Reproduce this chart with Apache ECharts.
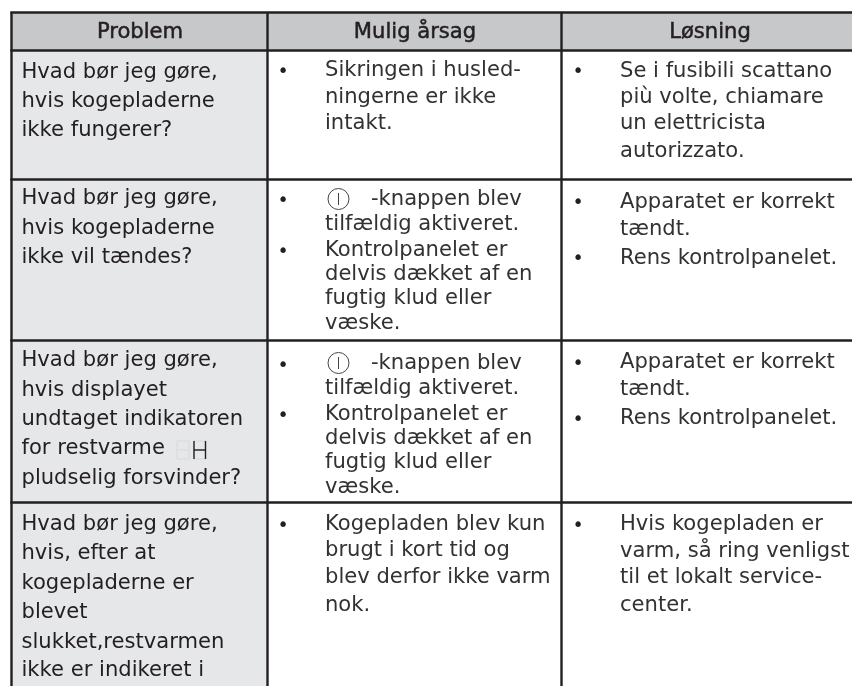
<!DOCTYPE html>
<html><head><meta charset="utf-8">
<style>html,body{margin:0;padding:0;background:#fff}#c{width:852px;height:686px}</style>
<script src="https://cdn.jsdelivr.net/npm/echarts@6/dist/echarts.min.js"></script>
</head><body><div id="c"></div>
<script>
// Content
const headers = ["Problem", "Mulig årsag", "Løsning"];
const problems = [
  ["Hvad bør jeg gøre,", "hvis kogepladerne", "ikke fungerer?"],
  ["Hvad bør jeg gøre,", "hvis kogepladerne", "ikke vil tændes?"],
  ["Hvad bør jeg gøre,", "hvis displayet", "undtaget indikatoren", "for restvarme", "pludselig forsvinder?"],
  ["Hvad bør jeg gøre,", "hvis, efter at", "kogepladerne er", "blevet", "slukket,restvarmen", "ikke er indikeret i"]
];
const causes = [
  ["Sikringen i husled-", "ningerne er ikke", "intakt."],
  ["-knappen blev", "tilfældig aktiveret.", "Kontrolpanelet er", "delvis dækket af en", "fugtig klud eller", "væske."],
  ["-knappen blev", "tilfældig aktiveret.", "Kontrolpanelet er", "delvis dækket af en", "fugtig klud eller", "væske."],
  ["Kogepladen blev kun", "brugt i kort tid og", "blev derfor ikke varm", "nok."]
];
const solutions = [
  ["Se i fusibili scattano", "più volte, chiamare", "un elettricista", "autorizzato."],
  ["Apparatet er korrekt", "tændt.", "Rens kontrolpanelet."],
  ["Apparatet er korrekt", "tændt.", "Rens kontrolpanelet."],
  ["Hvis kogepladen er", "varm, så ring venligst", "til et lokalt service-", "center."]
];
// Layout (separate from content)
const W = 852, H = 686;
const colEdges = [11.5, 267.5, 561.5, 852];
const rowEdges = [12.5, 50.5, 179.5, 340.5, 502.5, 686];
const headerCx = [140, 415, 710], headerCy = 33;
const problemX = 21.5, causeX = 325, solutionX = 620;
const causeBulletX = 283, solutionBulletX = 578;
const problemY = [[73,102,131],[199,229,258],[361,391,420,449,479],[525,554,584,613,643,671]];
const causeY = [[71,98,124],[200,225,251,275,299,324],[364,389,415,439,463,488],[525,551,578,606]];
const solutionY = [[72,98,124,152],[203,230,259],[363,390,419],[525,552,578,606]];
const causeBulletY = [72,201,252,366,416,526];
const solutionBulletY = [72,203,259,364,420,526];
const powerIconY = [199,363];
const iconTextX = 371;
const fontFam = '"DejaVu Sans",sans-serif';
const ink = '#231f20', body = '#343132';
const FS = 21.1;

const items = [];
for (let c=0;c<3;c++) {
  items.push({k:'rect',x0:colEdges[c],x1:colEdges[c+1],y0:rowEdges[0],y1:rowEdges[1],fill:'#c7c8ca'});
  items.push({k:'head',x:headerCx[c],y:headerCy,t:headers[c]});
}
for (let r=0;r<4;r++) items.push({k:'rect',x0:colEdges[0],x1:colEdges[1],y0:rowEdges[r+1],y1:rowEdges[r+2],fill:'#e6e7e8'});
rowEdges.slice(0,5).forEach(y=>items.push({k:'line',x0:colEdges[0]-1.2,x1:W,y0:y,y1:y}));
colEdges.slice(0,3).forEach(x=>items.push({k:'line',x0:x,x1:x,y0:rowEdges[0],y1:H}));
problems.forEach((ls,r)=>ls.forEach((t,i)=>items.push({k:'text',x:problemX,y:problemY[r][i],t,c:ink})));
causes.forEach((ls,r)=>ls.forEach((t,i)=>{
  const iconLine = i===0 && (r===1||r===2);
  items.push({k:'text',x:iconLine?iconTextX:causeX,y:causeY[r][i],t,c:body});
}));
solutions.forEach((ls,r)=>ls.forEach((t,i)=>items.push({k:'text',x:solutionX,y:solutionY[r][i],t,c:body})));
causeBulletY.forEach(y=>items.push({k:'bullet',x:causeBulletX,y}));
solutionBulletY.forEach(y=>items.push({k:'bullet',x:solutionBulletX,y}));
powerIconY.forEach(y=>items.push({k:'power',x:338.5,y}));
items.push({k:'seg',x:177,y:441,w:12,h:18,c:'#dcdddf'});
items.push({k:'seg',x:194,y:441,w:11.5,h:18,c:'#dcdddf'});
items.push({k:'hh',x:194,y:441,w:11.5,h:18});

const chart = echarts.init(document.getElementById('c'),null,{renderer:'canvas'});
chart.setOption({
  animation:false,
  grid:{left:0,right:0,top:0,bottom:0},
  xAxis:{type:'value',min:0,max:W,show:false},
  yAxis:{type:'value',min:0,max:H,inverse:true,show:false},
  series:[{
    type:'custom',coordinateSystem:'cartesian2d',clip:false,
    data:items.map((_,i)=>[i,0]),
    renderItem(params,api){
      const d=items[params.dataIndex];
      const P=(x,y)=>api.coord([x,y]);
      if(d.k==='rect'){const a=P(d.x0,d.y0),b=P(d.x1,d.y1);
        return {type:'rect',shape:{x:a[0],y:a[1],width:b[0]-a[0],height:b[1]-a[1]},style:{fill:d.fill}};}
      if(d.k==='line'){const a=P(d.x0,d.y0),b=P(d.x1,d.y1);
        return {type:'line',shape:{x1:a[0],y1:a[1],x2:b[0],y2:b[1]},style:{stroke:ink,lineWidth:2.4}};}
      if(d.k==='text'){const a=P(d.x,d.y);
        return {type:'text',x:a[0],y:a[1],style:{text:d.t,fill:d.c,font:FS+'px '+fontFam,align:'left',verticalAlign:'middle'}};}
      if(d.k==='head'){const a=P(d.x,d.y);
        return {type:'text',x:a[0],y:a[1],style:{text:d.t,fill:ink,stroke:ink,lineWidth:0.5,font:FS+'px '+fontFam,align:'center',verticalAlign:'middle'}};}
      if(d.k==='bullet'){const a=P(d.x,d.y);
        return {type:'text',x:a[0],y:a[1],style:{text:'•',fill:ink,font:'19px "DejaVu Sans"',align:'center',verticalAlign:'middle'}};}
      if(d.k==='power'){const a=P(d.x,d.y);
        return {type:'group',children:[
          {type:'circle',shape:{cx:a[0],cy:a[1],r:10.5},style:{fill:'none',stroke:'#444',lineWidth:1}},
          {type:'line',shape:{x1:a[0],y1:a[1]-6,x2:a[0],y2:a[1]+6},style:{stroke:'#444',lineWidth:1}}]};}
      if(d.k==='seg'||d.k==='hh'){const a=P(d.x,d.y),w=d.w,h=d.h;
        const L=(x1,y1,x2,y2,c)=>({type:'line',shape:{x1:a[0]+x1,y1:a[1]+y1,x2:a[0]+x2,y2:a[1]+y2},style:{stroke:c,lineWidth:1.4}});
        if(d.k==='hh') return {type:'group',children:[L(0,0,0,h,ink),L(w,0,w,h,ink),L(0,h/2,w,h/2,ink)]};
        return {type:'group',children:[L(0,0,w,0,d.c),L(0,h/2,w,h/2,d.c),L(0,h,w,h,d.c),L(0,0,0,h,d.c),L(w,0,w,h,d.c)]};}
    }
  }]
});
</script></body></html>
